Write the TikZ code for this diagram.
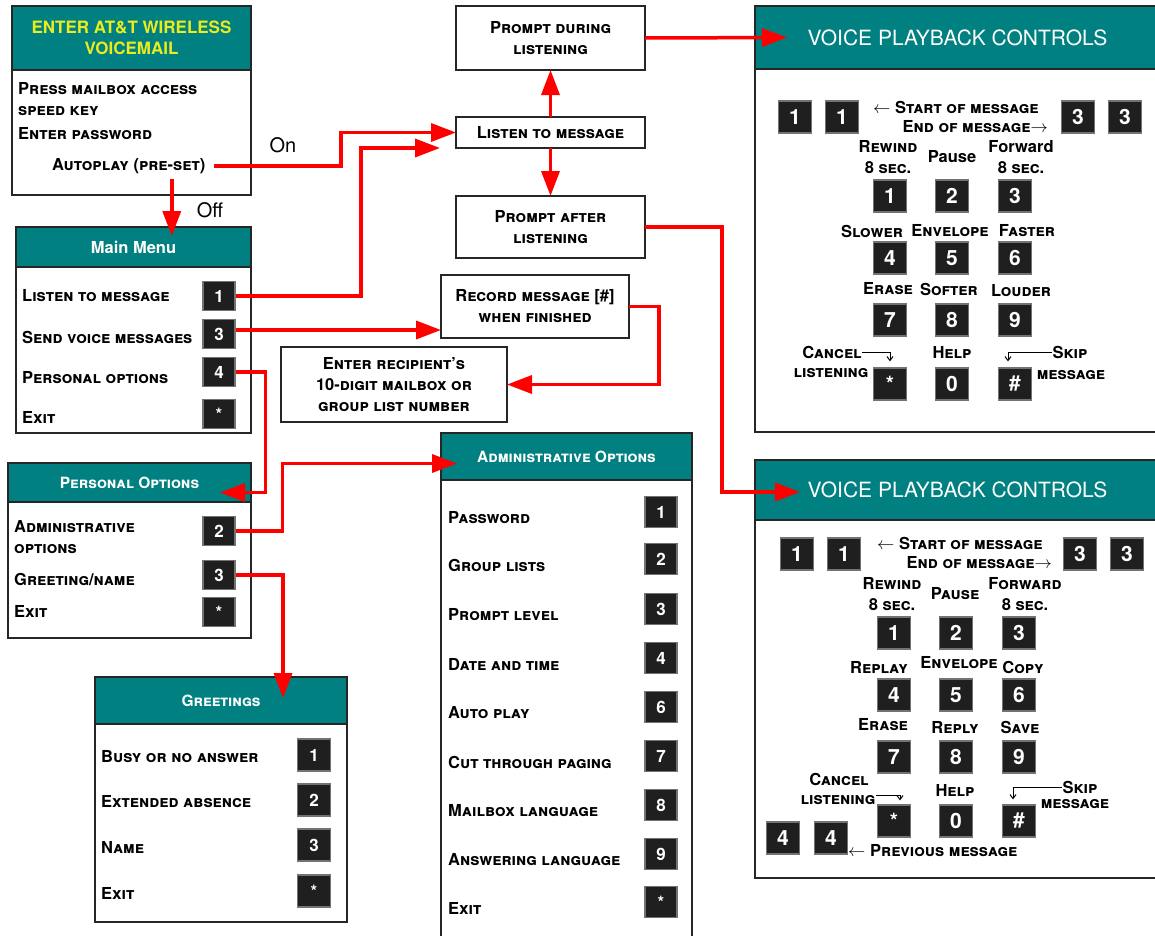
\documentclass[tikz,border=0pt]{standalone}
\usepackage{fontspec}
\setmainfont{TeX Gyre Heros}
\usetikzlibrary{arrows.meta}
\definecolor{vmteal}{RGB}{0,128,128}
\definecolor{vmyellow}{RGB}{235,235,30}
\begin{document}
\begin{tikzpicture}[x=1pt,y=-1pt,
    box/.style={draw=black!85,line width=1.3pt,fill=white,inner sep=0pt,outer sep=0pt,anchor=north west},
    head/.style={box,fill=vmteal,text=white,font=\fontsize{15.5}{18}\selectfont\bfseries\scshape},
    txtbox/.style={box,align=center,font=\fontsize{16.5}{21}\selectfont\bfseries\scshape},
    key/.style={fill=black!88,draw=black!55,line width=1.3pt,text=white,inner sep=0pt,
        minimum width=32pt,minimum height=29pt,font=\fontsize{17}{17}\selectfont\bfseries},
    bigkey/.style={key,minimum width=33pt,minimum height=32pt,font=\fontsize{21}{21}\selectfont\bfseries},
    item/.style={anchor=west,inner sep=0pt,align=left,font=\fontsize{16.5}{21}\selectfont\bfseries\scshape},
    pad/.style={inner sep=0pt,align=center,font=\fontsize{16.5}{21}\selectfont\bfseries\scshape},
    redarrow/.style={draw=red,line width=3.5pt,-{Triangle[length=25pt,width=18pt]}},
    thinarrow/.style={line width=1pt,-{Straight Barb[length=4pt,width=6pt]}}]
\clip (0,0) rectangle (1155,935);
\fill[white] (0,0) rectangle (1155,935);
% entry box
\node[box,minimum width=239pt,minimum height=125pt] (enter) at (12,70) {};
\node[head,minimum width=239pt,minimum height=64pt,align=center,text=vmyellow,
    font=\fontsize{17}{21}\selectfont\bfseries] (enterhead) at (12,6) {ENTER AT\&T WIRELESS\\VOICEMAIL};
\node[item] (press) at (18,99) {Press mailbox access\\speed key};
\node[item] (passwd) at (18,134) {Enter password};
\node[item] (autoplay) at (52,166) {Autoplay (pre-set)};
% main menu
\node[box,minimum width=235pt,minimum height=166pt] (main) at (16,267) {};
\node[head,minimum width=235pt,minimum height=40pt,font=\fontsize{16.5}{18}\selectfont\bfseries] (mainhead) at (16,227) {Main Menu};
\node[item] (mmlisten) at (22,296) {Listen to message};
\node[item] (mmsend) at (22,337) {Send voice messages};
\node[item] (mmpers) at (22,378) {Personal options};
\node[item] (mmexit) at (22,417) {Exit};
\node[key] (mm1) at (219,296) {1};
\node[key] (mm3) at (219,334) {3};
\node[key] (mm4) at (219,372) {4};
\node[key] (mmx) at (219,414) {*};
% personal options
\node[box,minimum width=243pt,minimum height=136pt] (pers) at (8,502) {};
\node[head,minimum width=243pt,minimum height=39pt] (pohead) at (8,463) {Personal Options};
\node[item] (poadmin) at (14,537) {Administrative\\options};
\node[item] (pogreet) at (14,579) {Greeting/name};
\node[item] (poexit) at (14,611) {Exit};
\node[key] (po2) at (219,531) {2};
\node[key] (po3) at (219,575) {3};
\node[key] (pox) at (219,612) {*};
% greetings
\node[box,minimum width=252pt,minimum height=198pt] (greet) at (95,724) {};
\node[head,minimum width=252pt,minimum height=47pt] (greethead) at (95,677) {Greetings};
\foreach \t/\k/\n/\y in {Busy or no answer/1/g1/757,Extended absence/2/g2/802,Name/3/g3/847,Exit/*/gx/893}{
    \node[item] (\n t) at (101,\y) {\t};
    \node[key,minimum width=33pt,minimum height=32pt] (\n) at (314,\y-2) {\k};
}
% administrative options
\node[box,minimum width=251pt,minimum height=470pt] (admin) at (441,480) {};
\node[head,minimum width=251pt,minimum height=47pt] (adminhead) at (441,433) {Administrative Options};
\foreach \t/\k/\n/\y in {Password/1/a1/518,Group lists/2/a2/565,Prompt level/3/a3/615,
    Date and time/4/a4/664,Auto play/6/a6/713,Cut through paging/7/a7/762,
    Mailbox language/8/a8/811,Answering language/9/a9/860,Exit/*/ax/908}{
    \node[item] (\n t) at (448,\y) {\t};
    \node[key,minimum height=31pt] (\n) at (661,\y-6) {\k};
}
% listening boxes
\node[txtbox,minimum width=189pt,minimum height=64pt] (during) at (456,6) {Prompt during\\listening};
\node[txtbox,minimum width=189pt,minimum height=31pt] (listen) at (456,117) {Listen to message};
\node[txtbox,minimum width=189pt,minimum height=62pt] (after) at (456,196) {Prompt after\\listening};
\node[txtbox,minimum width=188pt,minimum height=63pt] (record) at (441,275) {Record message [\#]\\when finished};
\node[txtbox,minimum width=226pt,minimum height=75pt] (recip) at (281,347) {Enter recipient's\\10-digit mailbox or\\group list number};
% voice playback controls
\node[box,minimum width=405pt,minimum height=363pt] (vpc1) at (755,69) {};
\node[head,minimum width=405pt,minimum height=63pt,font=\fontsize{21}{24}\selectfont] (vpc1head) at (755,6) {VOICE PLAYBACK CONTROLS};
\node[box,minimum width=405pt,minimum height=358pt] (vpc2) at (755,520) {};
\node[head,minimum width=405pt,minimum height=60pt,font=\fontsize{21}{24}\selectfont] (vpc2head) at (755,460) {VOICE PLAYBACK CONTROLS};
\foreach \p/\dx/\dy in {t/0/0,b/4/437}{
    \foreach \k/\n/\x/\y in {1/1/890/196,2/2/952/196,3/3/1015/196,4/4/890/258,5/5/952/258,6/6/1015/258,
        7/7/890/320,8/8/952/320,9/9/1015/320,*/star/890/384,0/0/952/384,\#/hash/1015/384}
        \node[bigkey] (\p\n) at (\x+\dx,\y+\dy) {\k};
    \foreach \k/\n/\x in {1/sa/795,1/sb/842,3/ea/1078,3/eb/1125}
        \node[bigkey] (\p\n) at (\x+\dx/2,117+\dy) {\k};
}
\node[pad,anchor=west] (tstart) at (873,107) {$\leftarrow$ Start of message};
\node[pad,anchor=east] (tend) at (1048,127) {End of message$\rightarrow$};
\node[pad] (trew) at (888,157) {Rewind\\8 sec.};
\node[pad] (tpause) at (952,157) {\upshape Pause};
\node[pad] (tfwd) at (1021,157) {\upshape Forward\\8 sec.};
\node[pad] (tslow) at (872,231) {Slower};
\node[pad] (tenv) at (950,231) {Envelope};
\node[pad] (tfast) at (1027,231) {Faster};
\node[pad] (terase) at (888,289) {Erase};
\node[pad] (tsoft) at (949,289) {Softer};
\node[pad] (tloud) at (1021,291) {Louder};
\node[pad] (tcancel) at (832,352) {Cancel};
\node[pad] (tlisten) at (831,373) {listening};
\node[pad] (thelp) at (952,352) {Help};
\node[pad] (tskip) at (1070,352) {Skip};
\node[pad] (tmsg) at (1071,375) {message};
\node[pad,anchor=west] (bstart) at (877,543) {$\leftarrow$ Start of message};
\node[pad,anchor=east] (bend) at (1052,563) {End of message$\rightarrow$};
\node[pad] (brew) at (892,594) {Rewind\\8 sec.};
\node[pad] (bpause) at (955,594) {Pause};
\node[pad] (bfwd) at (1025,594) {Forward\\8 sec.};
\node[pad] (breplay) at (879,667) {Replay};
\node[pad] (benv) at (959,663) {Envelope};
\node[pad] (bcopy) at (1023,667) {Copy};
\node[pad] (berase) at (883,725) {Erase};
\node[pad] (breply) at (955,727) {Reply};
\node[pad] (bsave) at (1020,727) {Save};
\node[pad] (bcancel) at (839,779) {Cancel};
\node[pad] (blisten) at (838,800) {listening};
\node[pad] (bhelp) at (955,790) {Help};
\node[pad] (bskip) at (1080,787) {Skip};
\node[pad] (bmsg) at (1075,804) {message};
\node[bigkey] (bpa) at (783,838) {4};
\node[bigkey] (bpb) at (831,838) {4};
\node[pad,anchor=west] (bprev) at (848,851) {$\leftarrow$ Previous message};
\draw[thinarrow] (tcancel.east) -| ([yshift=6pt]tstar.north);
\draw[thinarrow] (tskip.west) -| ([xshift=-7pt,yshift=6pt]thash.north);
\draw[thinarrow] (blisten.north east) -| ([xshift=6pt,yshift=4pt]bstar.north);
\draw[thinarrow] (bskip.west) -| ([xshift=-6pt,yshift=5pt]bhash.north);
% connectors
\node[font=\fontsize{20}{20}\selectfont] (on) at (283,145) {On};
\node[font=\fontsize{20}{20}\selectfont] (off) at (210,210) {Off};
\draw[redarrow] ([xshift=8pt]autoplay.east) -| ([xshift=-115pt]listen.west) -- (listen.west);
\draw[redarrow] ([xshift=43pt,yshift=-5pt]autoplay.south) -- ([xshift=43pt,yshift=-9pt]autoplay.south |- mainhead.north);
\draw[redarrow] (mm1.east) -| ([xshift=-95pt]listen.south west) -- ([xshift=-16pt]listen.south west);
\draw[redarrow] ([yshift=4pt]mm3.east) -- ([yshift=4pt]mm3.east -| record.west);
\draw[redarrow] (mm4.east) -- ++(30,0) |- ([shift={(-31pt,-10pt)}]pohead.east);
\draw[redarrow] (po2.east) -- ++(47,0) |- ([shift={(16pt,-7pt)}]adminhead.west);
\draw[redarrow] (po3.east) -| ([xshift=62pt,yshift=-21pt]greethead.north);
\draw[redarrow] (listen.north) -- (during.south);
\draw[redarrow] (listen.south) -- (after.north);
\draw[redarrow] (during.east) -- ([xshift=32pt]vpc1head.west);
\draw[redarrow] (after.east) -- ++(77,0) |- ([shift={(45pt,-2pt)}]vpc2head.west);
\draw[redarrow] (record.east) -- ++(30,0) |- (recip.east);
\end{tikzpicture}
\end{document}
